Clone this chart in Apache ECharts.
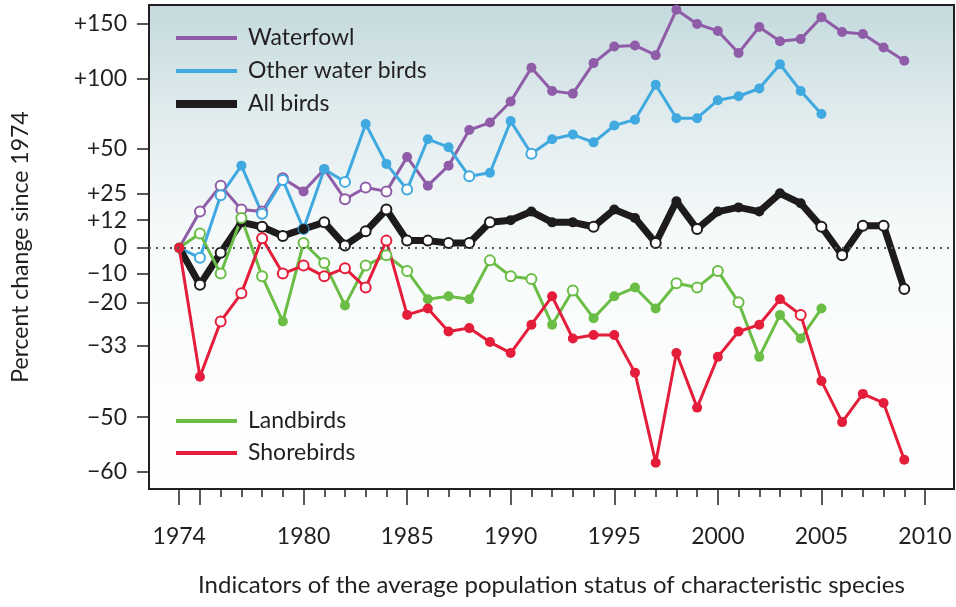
<!DOCTYPE html>
<html>
<head>
<meta charset="utf-8">
<script src="https://cdn.jsdelivr.net/npm/echarts@6/dist/echarts.min.js"></script>
<style>
html, body { margin: 0; padding: 0; background: #fff; overflow: hidden; }
#main { position: absolute; left: 0; top: 0; width: 956px; height: 607px; }
</style>
</head>
<body>
<div id="main"></div>
<script>
// years 1974 - 2009
var years = [];
for (var y = 1974; y <= 2009; y++) years.push(y);

// percent change since 1974
var waterfowl = [0, 16, 29, 17, 16, 33, 26, 38, 22, 28, 26, 45, 29, 40, 62, 67, 82, 109, 90, 88, 113, 128, 129, 120, 165, 150, 143, 122, 147, 133, 135, 157, 142, 140, 127, 115];
var otherWater = [0, -4, 24, 40, 15, 32, 8, 38, 31, 66, 41, 27, 56, 51, 34, 36, 68, 47, 56, 59, 54, 65, 69, 95, 70, 70, 83, 86, 92, 112, 90, 73];
var allBirds = [0, -14, -2, 11, 9, 5, 8, 11, 1, 7, 17, 3, 3, 2, 2, 11, 12, 16, 11, 11, 9, 17, 13, 2, 21, 8, 16, 18, 16, 25, 20, 9, -3, 9.5, 9.5, -15.5];
var landbirds = [0, 6, -10, 13, -11, -26, 2, -6, -21, -7, -3, -9, -19, -18, -19, -5, -11, -12, -27, -16, -25, -18, -15, -22, -13.5, -15, -9, -20, -36, -24, -31, -22];
var shorebirds = [0, -41, -26, -17, 4, -10, -7, -11, -8, -15, 3, -24, -22, -29, -28, -32, -35, -27, -18, -31, -30, -30, -40, -58.5, -35, -48, -36, -29, -27, -19, -24, -42, -51, -45, -47, -58];

// years drawn with open (white) markers
var waterfowlOpen = [1975, 1976, 1977, 1978, 1979, 1982, 1983, 1984];
var otherWaterOpen = [1975, 1976, 1978, 1979, 1980, 1982, 1985, 1988, 1991];
var allBirdsOpen = [1975, 1976, 1978, 1979, 1981, 1982, 1983, 1984, 1985, 1986, 1987, 1988, 1989, 1994, 1997, 1999, 2005, 2006, 2007, 2008, 2009];
var landbirdsOpen = [1975, 1976, 1977, 1978, 1980, 1981, 1983, 1984, 1985, 1989, 1990, 1991, 1993, 1998, 1999, 2000, 2001];
var shorebirdsOpen = [1976, 1977, 1978, 1979, 1980, 1981, 1982, 1983, 1984, 2004];

// tick labels
var yTicks = [150, 100, 50, 25, 12, 0, -10, -20, -33, -50, -60];
var xLabelYears = [1974, 1980, 1985, 1990, 1995, 2000, 2005, 2010];
var xMajorTicks = [1974, 1975, 1980, 1985, 1990, 1995, 2000, 2005, 2010];
var xMinorTicks = [];
for (var y = 1974; y <= 2010; y++) xMinorTicks.push(y);

// ratio scale: position = log10(1 + p/100)
function tr(p) {
    return Math.log10(1 + p / 100);
}

var FONT = 'Lato';
var TEXT = '#231f20';

function makeSeries(name, values, openYears, color, width, size) {
    var data = [];
    for (var i = 0; i < values.length; i++) {
        var item = { value: [years[i], tr(values[i])] };
        if (openYears.indexOf(years[i]) >= 0) {
            item.itemStyle = { color: '#ffffff', borderColor: color, borderWidth: 2 };
        }
        data.push(item);
    }
    return {
        name: name,
        type: 'line',
        data: data,
        symbol: 'circle',
        symbolSize: size,
        showSymbol: true,
        color: color,
        itemStyle: { color: color },
        lineStyle: { color: color, width: width },
        emphasis: { disabled: true }
    };
}

var series = [
    makeSeries('Waterfowl', waterfowl, waterfowlOpen, '#8f5ca8', 3, 10),
    makeSeries('Other water birds', otherWater, otherWaterOpen, '#3fa9e0', 3, 10),
    makeSeries('All birds', allBirds, allBirdsOpen, '#1e1b1c', 7, 10),
    makeSeries('Landbirds', landbirds, landbirdsOpen, '#6abd45', 3, 10),
    makeSeries('Shorebirds', shorebirds, shorebirdsOpen, '#e41e3a', 3, 10)
];
// dotted zero line
series[2].markLine = {
    silent: true,
    symbol: 'none',
    label: { show: false },
    lineStyle: { color: '#555', width: 2, type: [2, 5] },
    data: [{ yAxis: 0 }]
};

var thinBar = 'path://M0,0H61V4H0Z';
var legendText = { fontFamily: FONT, fontSize: 23, color: TEXT, padding: [0, 0, 0, 6], lineHeight: 24 };

var option = {
    animation: false,
    backgroundColor: '#ffffff',
    textStyle: { fontFamily: FONT },
    grid: {
        left: 149, top: 5, width: 805, height: 484,
        show: true,
        borderColor: TEXT,
        borderWidth: 2,
        backgroundColor: {
            type: 'linear', x: 0, y: 0, x2: 0, y2: 1,
            colorStops: [
                { offset: 0, color: '#c4dadd' },
                { offset: 0.25, color: '#e3edef' },
                { offset: 0.5, color: '#f8fbfb' },
                { offset: 1, color: '#ffffff' }
            ]
        }
    },
    legend: [
        {
            left: 171, top: 21, orient: 'vertical',
            itemWidth: 61, itemHeight: 8, itemGap: 9,
            symbolKeepAspect: true,
            data: [
                { name: 'Waterfowl', icon: thinBar },
                { name: 'Other water birds', icon: thinBar },
                { name: 'All birds', icon: 'rect' }
            ],
            itemStyle: { borderWidth: 0 },
            lineStyle: { width: 0 },
            textStyle: legendText,
            selectedMode: false
        },
        {
            left: 171, top: 404, orient: 'vertical',
            itemWidth: 61, itemHeight: 8, itemGap: 8,
            symbolKeepAspect: true,
            data: [
                { name: 'Landbirds', icon: thinBar },
                { name: 'Shorebirds', icon: thinBar }
            ],
            itemStyle: { borderWidth: 0 },
            lineStyle: { width: 0 },
            textStyle: legendText,
            selectedMode: false
        }
    ],
    xAxis: [
        {
            type: 'value',
            min: 1972.54,
            max: 2011.4,
            position: 'bottom',
            axisLine: { show: false, onZero: false },
            splitLine: { show: false },
            axisTick: {
                show: true, length: 16, customValues: xMajorTicks,
                lineStyle: { color: TEXT, width: 1.5 }
            },
            axisLabel: {
                customValues: xLabelYears,
                margin: 36,
                fontFamily: FONT, fontSize: 23, color: TEXT,
                formatter: function (v) { return String(v); }
            },
            name: 'Indicators of the average population status of characteristic species',
            nameLocation: 'middle',
            nameGap: 84,
            nameTextStyle: { fontFamily: FONT, fontSize: 24, color: TEXT }
        },
        {
            type: 'value',
            min: 1972.54,
            max: 2011.4,
            position: 'bottom',
            axisLine: { show: false, onZero: false },
            splitLine: { show: false },
            axisTick: {
                show: true, length: 8, customValues: xMinorTicks,
                lineStyle: { color: TEXT, width: 1.5 }
            },
            axisLabel: { show: false }
        }
    ],
    yAxis: {
        type: 'value',
        min: -0.4287,
        max: 0.4317,
        axisLine: { show: false, onZero: false },
        splitLine: { show: false },
        axisTick: {
            show: true, length: 12,
            customValues: yTicks.map(tr),
            lineStyle: { color: TEXT, width: 1.5 }
        },
        axisLabel: {
            customValues: yTicks.map(tr),
            margin: 22,
            fontFamily: FONT, fontSize: 23, color: TEXT,
            formatter: function (v) {
                var p = Math.round((Math.pow(10, v) - 1) * 100);
                if (p > 0) return '+' + p;
                if (p < 0) return '\u2212' + (-p);
                return '0';
            }
        },
        name: 'Percent change since 1974',
        nameLocation: 'middle',
        nameGap: 117,
        nameTextStyle: { fontFamily: FONT, fontSize: 23, color: TEXT }
    },
    series: series
};

var chart = echarts.init(document.getElementById('main'), null, { renderer: 'canvas' });
chart.setOption(option);
</script>
</body>
</html>
